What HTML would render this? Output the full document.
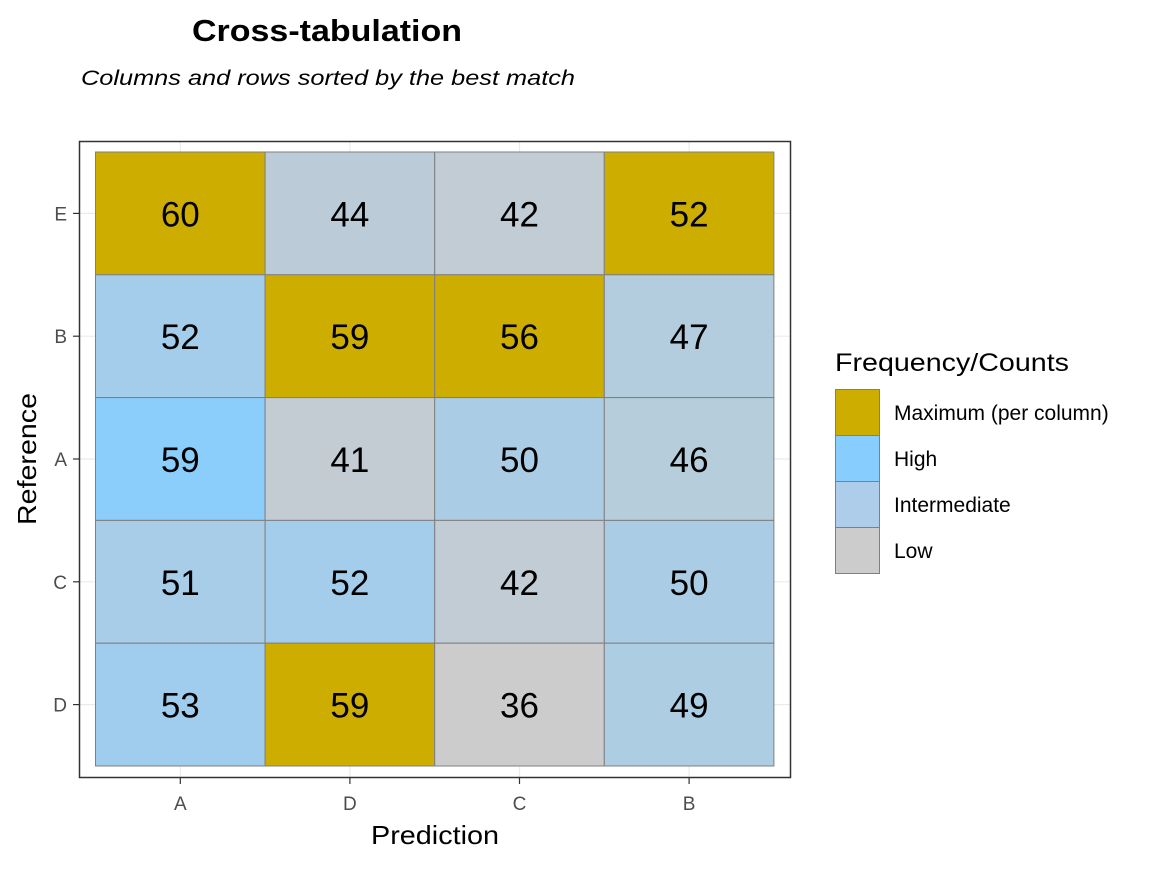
<!DOCTYPE html>
<html><head><meta charset="utf-8"><style>
body{margin:0;background:#fff;font-family:"Liberation Sans",Arial,sans-serif}
</style></head><body>
<svg id="chart" width="1152" height="865" xmlns="http://www.w3.org/2000/svg">
<text x="192" y="41" font-size="31" font-weight="bold" textLength="270" lengthAdjust="spacingAndGlyphs">Cross-tabulation</text>
<text x="81" y="85" font-size="21" font-style="italic" textLength="494" lengthAdjust="spacingAndGlyphs">Columns and rows sorted by the best match</text>
<g id="grid"></g>
<g id="cells"></g>
<rect x="79.5" y="141.5" width="711" height="636" fill="none" stroke="#333" stroke-width="1.5"/>
<g id="axes"></g>
<text x="371" y="844" font-size="26" textLength="128" lengthAdjust="spacingAndGlyphs">Prediction</text>
<text transform="translate(36,525) rotate(-90)" font-size="26" textLength="132" lengthAdjust="spacingAndGlyphs">Reference</text>
<g id="legend"></g>
</svg>
<script>
const cols = ["A","D","C","B"];
const rows = ["E","B","A","C","D"];
const values = [
 [60,44,42,52],
 [52,59,56,47],
 [59,41,50,46],
 [51,52,42,50],
 [53,59,36,49]
];
const legendLabels = ["Maximum (per column)","High","Intermediate","Low"];
const legendColors = ["#CDAD00","#87CEFF","#ADCDEB","#CCCCCC"];

const NS="http://www.w3.org/2000/svg";
const x0=95.5, cw=169.6, y0=152, rh=122.8;
const xc=i=>x0+cw*(i+0.5);
const yc=j=>y0+rh*(j+0.5);
function mk(t,a,p){const e=document.createElementNS(NS,t);for(const k in a)e.setAttribute(k,a[k]);p.appendChild(e);return e;}
const grid=document.getElementById('grid'),cells=document.getElementById('cells'),axes=document.getElementById('axes'),leg=document.getElementById('legend');
cols.forEach((c,i)=>{const l=mk('line',{x1:xc(i),x2:xc(i),y1:141,y2:777,stroke:'#ebebeb','stroke-width':1.2},grid);

});
rows.forEach((r,j)=>{const l=mk('line',{x1:79,x2:790,y1:yc(j),y2:yc(j),stroke:'#ebebeb','stroke-width':1.2},grid);

});
let all=values.flat(),vmin=Math.min(...all),vmax=Math.max(...all);
function interp(v){const t=Math.max(0,Math.min(1,(v-vmin)/(vmax-vmin)));const t2=Math.pow(t,1.3);
const a=[204,204,204],b=[135,206,255];return `rgb(${a.map((x,k)=>Math.round(x+(b[k]-x)*t2)).join(',')})`;}
cols.forEach((c,i)=>{
 const colMax=Math.max(...values.map(r=>r[i]));
 rows.forEach((r,j)=>{
  const v=values[j][i];
  const fill=v===colMax?"#CDAD00":interp(v);
  const rc=mk('rect',{x:x0+cw*i,y:y0+rh*j,width:cw,height:rh,fill:fill,stroke:'#7f7f7f','stroke-width':1},cells);
  
  
  const t=mk('text',{x:xc(i),y:yc(j)+13,'text-anchor':'middle','font-size':35},cells);t.textContent=v;
  
  
 });
});
cols.forEach((c,i)=>{mk('line',{x1:xc(i),x2:xc(i),y1:778,y2:784,stroke:'#333','stroke-width':1.2},axes);
 const t=mk('text',{x:xc(i),y:810,'text-anchor':'middle','font-size':19,fill:'#4d4d4d'},axes);t.textContent=c;
 
 });
rows.forEach((r,j)=>{mk('line',{x1:73,x2:79,y1:yc(j),y2:yc(j),stroke:'#333','stroke-width':1.2},axes);
 const t=mk('text',{x:67,y:yc(j)+7,'text-anchor':'end','font-size':19,fill:'#4d4d4d'},axes);t.textContent=r;
 
 });
const lt=mk('text',{x:835,y:371,'font-size':25,textLength:234,lengthAdjust:'spacingAndGlyphs'},leg);lt.textContent="Frequency/Counts";


legendLabels.forEach((l,k)=>{
 const r=mk('rect',{x:835.5,y:389.5+46*k,width:44,height:46,fill:legendColors[k],stroke:'#7f7f7f','stroke-width':1},leg);
 
 
 const t=mk('text',{x:894,y:420+46*k,'font-size':21},leg);t.textContent=l;
 
 
});
</script>
</body></html>
